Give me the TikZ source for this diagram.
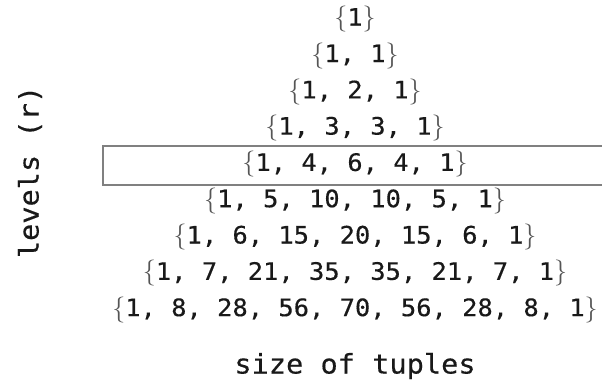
\documentclass[tikz,border=0pt]{standalone}
\usepackage{fontspec}
\newfontfamily\rowfont[FakeStretch=1.06,FakeBold=0.4]{DejaVu Sans Mono}
\newfontfamily\bracefont{Latin Modern Roman}
\definecolor{boxgray}{HTML}{808080}
\definecolor{bracegray}{HTML}{555555}
\newcommand{\lb}{{\color{bracegray}\bracefont\fontsize{26}{26}\selectfont\{}}
\newcommand{\rb}{{\color{bracegray}\bracefont\fontsize{26}{26}\selectfont\}}}
\begin{document}
\begin{tikzpicture}[x=1pt,y=-1pt,
  rowtext/.style={anchor=base,inner sep=0pt,font=\rowfont\fontsize{24}{24}\selectfont,text=black!90},
  labeltext/.style={inner sep=0pt,font=\rowfont\fontsize{27}{27}\selectfont,text=black!90}]
\useasboundingbox (0,0) rectangle (602,389);
\draw[boxgray,line width=2.6pt] (610,146) -- (103,146) -- (103,185) -- (610,185);
\node[rowtext] (r1) at (355,25.7) {\lb1\rb};
\node[rowtext] (r2) at (355,62.0) {\lb1, 1\rb};
\node[rowtext] (r3) at (355,98.3) {\lb1, 2, 1\rb};
\node[rowtext] (r4) at (355,134.6) {\lb1, 3, 3, 1\rb};
\node[rowtext] (r5) at (355,170.9) {\lb1, 4, 6, 4, 1\rb};
\node[rowtext] (r6) at (355,207.2) {\lb1, 5, 10, 10, 5, 1\rb};
\node[rowtext] (r7) at (355,243.5) {\lb1, 6, 15, 20, 15, 6, 1\rb};
\node[rowtext] (r8) at (355,279.8) {\lb1, 7, 21, 35, 35, 21, 7, 1\rb};
\node[rowtext] (r9) at (355,316.1) {\lb1, 8, 28, 56, 70, 56, 28, 8, 1\rb};
\node[labeltext] (xl) at (355,366) {size of tuples};
\node[labeltext,rotate=90] (yl) at (30,172) {levels (r)};
\end{tikzpicture}
\end{document}
